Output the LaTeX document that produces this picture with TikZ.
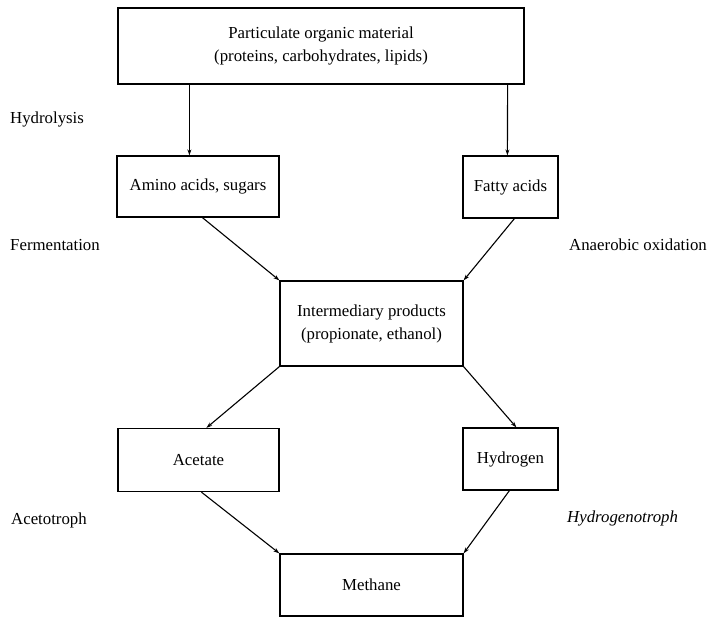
\documentclass[tikz,border=0pt]{standalone}
\usepackage{fontspec}
\setmainfont{Liberation Serif}
\usetikzlibrary{calc,arrows.meta}
\begin{document}
\begin{tikzpicture}[x=1pt,y=-1pt,
  every node/.style={font=\fontsize{16.8}{23}\selectfont, inner sep=0pt, text=black},
  box/.style={draw=black, line width=1.2pt, rectangle, align=center},
  lab/.style={anchor=west},
  flow/.style={draw=black, line width=1.1pt, -{Stealth[length=6pt,width=4pt]}}]
\useasboundingbox (0,0) rectangle (714,618);
\fill[white] (0,0) rectangle (714,618);
% boxes
\node[box, minimum width=406pt, minimum height=76pt] (top) at (321,46)
  {Particulate organic material\\(proteins, carbohydrates, lipids)};
\node[box, minimum width=162pt, minimum height=61pt] (amino) at (198,186.5) {Amino acids, sugars};
\node[box, minimum width=95pt, minimum height=62pt] (fatty) at (510.5,187) {Fatty acids};
\node[box, minimum width=183pt, minimum height=85pt] (inter) at (371.5,323.5)
  {Intermediary products\\(propionate, ethanol)};
\node[box, minimum width=161pt, minimum height=63pt] (acet) at (198.5,460) {Acetate};
\node[box, minimum width=95pt, minimum height=62pt] (hyd) at (510.5,459) {Hydrogen};
\node[box, minimum width=183pt, minimum height=62pt] (meth) at (371.5,585) {Methane};
% labels
\node[lab] (lhyd) at (10,119) {Hydrolysis};
\node[lab] (lfer) at (10,245) {Fermentation};
\node[lab] (lana) at (569,245) {Anaerobic oxidation};
\node[lab] (lacet) at (11,520) {Acetotroph};
\node[lab] (lhydro) at (567,518) {\itshape Hydrogenotroph};
% connectors
\draw[flow] ($(top.south west)+(72,0)$) -- ($(amino.north west)+(73,0)$);
\draw[flow] ($(top.south east)+(-17,0)$) -- ($(fatty.north west)+(45,0)$);
\draw[flow] ($(amino.south west)+(86,0)$) -- (inter.north west);
\draw[flow] ($(fatty.south west)+(52,0)$) -- (inter.north east);
\draw[flow] (inter.south west) -- ($(acet.north west)+(89,0)$);
\draw[flow] (inter.south east) -- ($(hyd.north west)+(54,0)$);
\draw[flow] ($(acet.south west)+(84,0)$) -- (meth.north west);
\draw[flow] ($(hyd.south west)+(47,0)$) -- (meth.north east);
\end{tikzpicture}
\end{document}
